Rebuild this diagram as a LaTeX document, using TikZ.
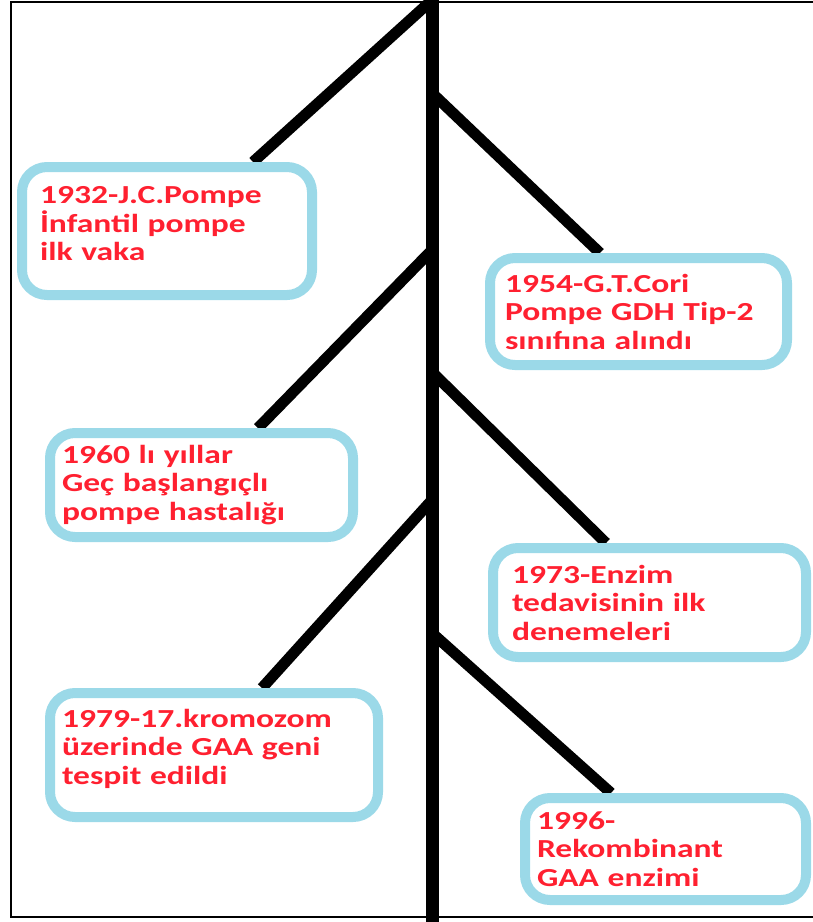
\documentclass[tikz,border=0pt]{standalone}
\usepackage{fontspec}
\newfontfamily\eventfont{Carlito}[FakeStretch=1.29]
\usetikzlibrary{backgrounds}
\definecolor{boxblue}{RGB}{155,217,232}
\definecolor{eventred}{RGB}{255,32,48}
\tikzstyle{event} = [rectangle, draw=boxblue, line width=10pt, fill=white, rounded corners=25pt, align=left, inner ysep=0pt, text=eventred, font=\eventfont\bfseries\fontsize{26}{28.5}\selectfont]
\tikzstyle{branch} = [line width=11pt]
\tikzstyle{trunk} = [line width=13pt]

\begin{document}
\begin{tikzpicture}[x=1pt, y=-1pt]
        \useasboundingbox (0,0) rectangle (813,922);
        \draw[line width=2.5pt] (11,2) rectangle (840,917);

        % Points on the trunk
        \coordinate (top) at (432,0);
        \coordinate (bottom) at (432,922);
        \coordinate (fork2) at (432,93);
        \coordinate (fork3) at (432,250);
        \coordinate (fork4) at (432,372);
        \coordinate (fork5) at (432,500);
        \coordinate (fork6) at (432,633);

        % Event boxes
        \node (pompe) [event, inner xsep=18pt, text width=254pt, minimum height=128pt, text depth=72pt] at (167,231) {1932-J.C.Pompe\\İnfantil pompe\\ilk vaka};
        \node (cori) [event, inner xsep=15pt, text width=267pt, minimum height=107pt] at (638.5,311.5) {1954-G.T.Cori\\Pompe GDH Tip-2\\sınıfına alındı};
        \node (late) [event, inner xsep=12pt, text width=279pt, minimum height=104pt] at (201.5,485) {1960 lı yıllar\\Geç başlangıçlı\\pompe hastalığı};
        \node (enzyme) [event, inner xsep=19pt, text width=275pt, minimum height=109pt] at (649.5,602.5) {1973-Enzim\\tedavisinin ilk\\denemeleri};
        \node (gene) [event, inner xsep=12pt, text width=304pt, minimum height=124pt, text depth=74pt] at (214,755) {1979-17.kromozom\\üzerinde GAA geni\\tespit edildi};
        \node (rhgaa) [event, inner xsep=12pt, text width=257pt, minimum height=102pt] at (665.5,849) {1996-\\Rekombinant\\GAA enzimi};

        % Branches and trunk behind the boxes
        \begin{pgfonlayer}{background}
        \draw[branch] (top) -- ([xshift=86pt]pompe.north);
        \draw[branch] (fork2) -- ([xshift=-38.5pt]cori.north);
        \draw[branch] (fork3) -- ([xshift=56.5pt]late.north);
        \draw[branch] (fork4) -- ([xshift=-43.5pt]enzyme.north);
        \draw[branch] (fork5) -- ([xshift=48pt]gene.north);
        \draw[branch] (fork6) -- ([xshift=-54.5pt]rhgaa.north);
        \draw[trunk] (top) -- (bottom);
        \end{pgfonlayer}
\end{tikzpicture}
\end{document}
